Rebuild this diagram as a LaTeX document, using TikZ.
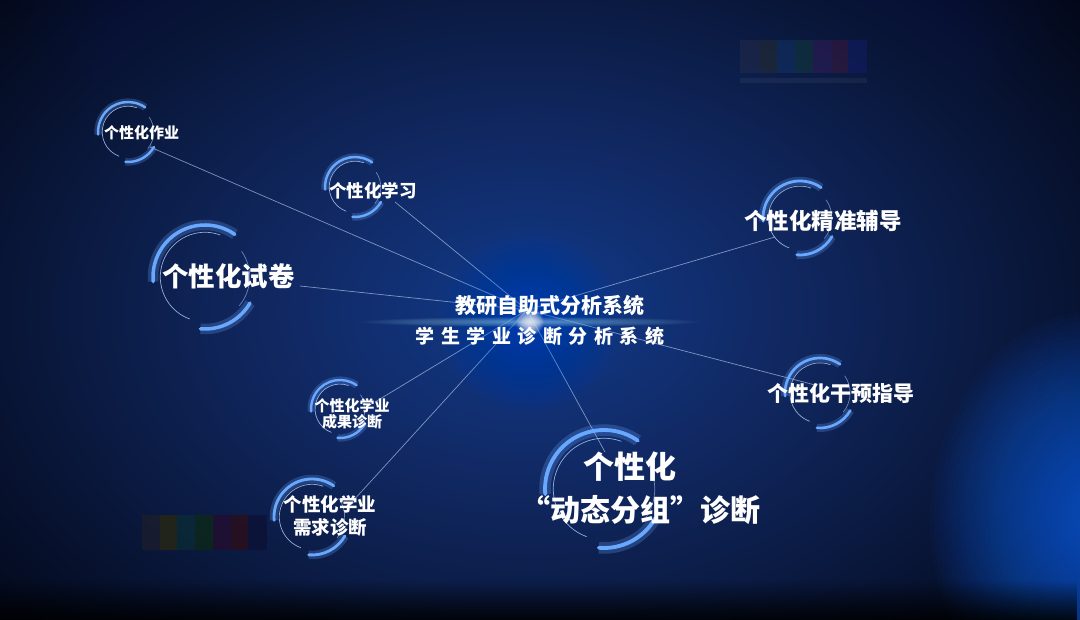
\documentclass[tikz,border=0pt]{standalone}
\usepackage{fontspec}
\setmainfont{Noto Sans CJK SC}
\usetikzlibrary{fadings}
\tikzfading[name=downfade, top color=transparent!100, bottom color=transparent!0]
\definecolor{bgbase}{RGB}{2,6,20}
\definecolor{bgglow}{RGB}{24,58,138}
\definecolor{ringblue}{RGB}{105,168,255}
\definecolor{ringthin}{RGB}{170,200,245}
\definecolor{linkcol}{RGB}{165,185,225}
\newcommand\stackglow[5]{%
  \foreach \k in {1,...,40}{\fill[#4, opacity=#5] (#1) ellipse ({(#2/40)*\k} and {(#3/40)*\k});}%
}
\newcommand\glowring[2]{%
  \pgfmathsetmacro\ringlw{1.0+0.048*#2}%
  \pgfmathsetmacro\ringin{0.86*#2}%
  \draw[ringblue, opacity=0.25, line width=3*\ringlw pt] (#1) ++(55:#2) arc[start angle=55,end angle=185,radius=#2];
  \draw[ringblue, opacity=0.25, line width=3*\ringlw pt] (#1) ++(-95:#2) arc[start angle=-95,end angle=-30,radius=#2];
  \draw[ringblue, line width=\ringlw pt, line cap=round] (#1) ++(55:#2) arc[start angle=55,end angle=185,radius=#2];
  \draw[ringblue, line width=\ringlw pt, line cap=round] (#1) ++(-95:#2) arc[start angle=-95,end angle=-30,radius=#2];
  \draw[ringthin, line width=0.7pt, opacity=0.85] (#1) ++(70:\ringin) arc[start angle=70,end angle=250,radius=\ringin];
  \draw[ringthin, line width=0.7pt, opacity=0.6] (#1) ++(-40:\ringin) arc[start angle=-40,end angle=35,radius=\ringin];
}
\tikzset{
  lab/.style={text=white, inner sep=0pt, font=\bfseries},
  link/.style={draw=linkcol, line width=0.7pt, opacity=0.75},
}
\begin{document}
\begin{tikzpicture}[x=1pt,y=1pt]
\useasboundingbox (0,0) rectangle (1080,620);
% background
\begin{scope}
\clip (0,0) rectangle (1080,620);
\fill[bgbase] (0,0) rectangle (1080,620);
\shade[inner color=bgglow, outer color=bgbase] (530,310) ellipse (740 and 510);
\stackglow{540,620}{520}{200}{bgglow}{0.011}
\stackglow{530,300}{330}{190}{bgglow!70!cyan}{0.01}
\stackglow{1100,100}{170}{210}{blue!65!cyan!85!white}{0.03}
\fill[black, opacity=0.85, path fading=downfade] (0,0) rectangle (1080,40);
\end{scope}
% faint colour bars
\foreach \xa/\xb/\c in {740/760/{40,45,75}, 760/777/{45,50,45}, 777/795/{20,55,110}, 795/813/{20,65,60}, 813/832/{60,30,95}, 832/848/{70,25,65}, 848/867/{20,30,110}}{
  \definecolor{barc}{RGB}{\c}
  \fill[barc, opacity=0.45] (\xa,547) rectangle (\xb,580);
}
\fill[white, opacity=0.05] (740,537) rectangle (867,542);
\foreach \xa/\xb/\c in {142/160/{30,30,42}, 160/177/{42,42,12}, 177/195/{10,45,52}, 195/213/{12,42,18}, 213/231/{38,12,45}, 231/248/{48,12,18}, 248/267/{12,16,52}}{
  \definecolor{barc}{RGB}{\c}
  \fill[barc, opacity=0.7] (\xa,70) rectangle (\xb,105);
}
% hub and connector ends
\coordinate (hub) at (527,310);
\coordinate (e-zuoye) at (150,473);
\coordinate (e-xuexi) at (395,418);
\coordinate (e-shijuan) at (300,334);
\coordinate (e-jingzhun) at (775,383);
\coordinate (e-ganyu) at (815,235);
\coordinate (e-chengguo) at (375,218);
\coordinate (e-xuqiu) at (352,118);
\coordinate (e-dongtai) at (605,168);
\foreach \e in {zuoye,xuexi,shijuan,jingzhun,ganyu,chengguo,xuqiu,dongtai}{
  \draw[link] (hub) -- (e-\e);
}
% central flare
\stackglow{530,298}{90}{90}{blue!60!cyan}{0.015}
\stackglow{530,298}{170}{5}{white!70!cyan}{0.02}
\stackglow{530,298}{14}{14}{white}{0.045}
% ring centres
\coordinate (r-zuoye) at (128,488);
\coordinate (r-xuexi) at (355,433);
\coordinate (r-shijuan) at (205,343);
\coordinate (r-jingzhun) at (800,402);
\coordinate (r-ganyu) at (820,227);
\coordinate (r-chengguo) at (340,211);
\coordinate (r-xuqiu) at (312,103);
\coordinate (r-dongtai) at (604,131);
\glowring{r-zuoye}{30}
\glowring{r-xuexi}{30}
\glowring{r-shijuan}{52}
\glowring{r-jingzhun}{37}
\glowring{r-ganyu}{35}
\glowring{r-chengguo}{29}
\glowring{r-xuqiu}{38}
\glowring{r-dongtai}{59}
% labels
\node[lab, anchor=west, font=\fontsize{15}{15}\selectfont\bfseries] (zuoye) at (104,487) {个性化作业};
\node[lab, anchor=west, font=\fontsize{17.5}{17.5}\selectfont\bfseries] (xuexi) at (329,429) {个性化学习};
\node[lab, anchor=west, font=\fontsize{26.5}{26.5}\selectfont\bfseries] (shijuan) at (162,344) {个性化试卷};
\node[lab, font=\fontsize{21}{21}\selectfont\bfseries] (sys1) at (550,314) {教研自助式分析系统};
\def\sp{\hspace{6.5pt}}
\node[lab, font=\fontsize{19}{19}\selectfont\bfseries] (sys2) at (540,284) {学\sp 生\sp 学\sp 业\sp 诊\sp 断\sp 分\sp 析\sp 系\sp 统};
\node[lab, anchor=west, font=\fontsize{22.5}{22.5}\selectfont\bfseries] (jingzhun) at (744,399) {个性化精准辅导};
\node[lab, anchor=west, font=\fontsize{21}{21}\selectfont\bfseries] (ganyu) at (767,226) {个性化干预指导};
\node[lab, align=center, font=\fontsize{15}{16.5}\selectfont\bfseries] (chengguo) at (352,206) {个性化学业\\成果诊断};
\node[lab, align=center, font=\fontsize{18.5}{23}\selectfont\bfseries] (xuqiu) at (330,104) {个性化学业\\需求诊断};
\node[lab, font=\fontsize{31}{31}\selectfont\bfseries] (dongtai1) at (630,153) {个性化};
\node[lab, font=\fontsize{30}{30}\selectfont\bfseries] (dongtai2) at (640,110) {“动态分组”诊断};
\end{tikzpicture}
\end{document}
